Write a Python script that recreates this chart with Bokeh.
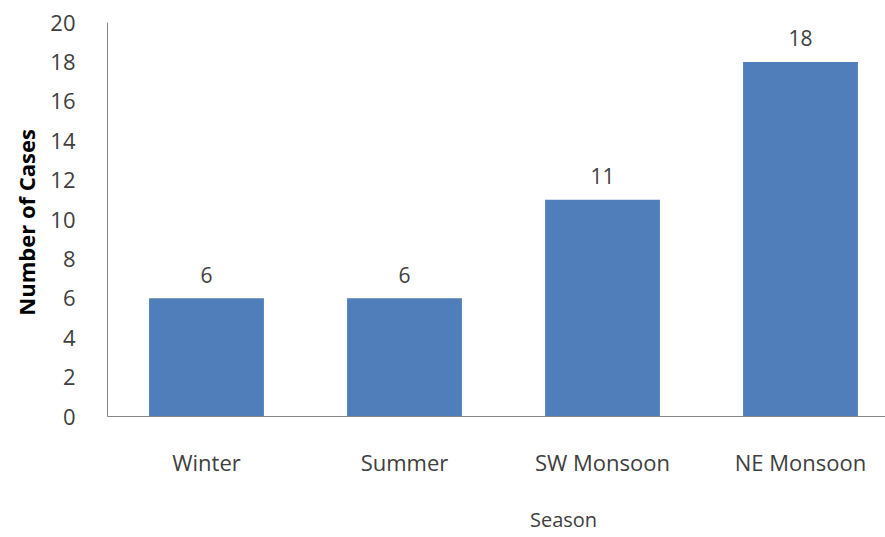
from bokeh.plotting import figure
from bokeh.layouts import column
from bokeh.models import ColumnDataSource, Range1d, FixedTicker, Legend, LegendItem, LabelSet
from bokeh.core.properties import value
from bokeh.embed import file_html
from bokeh.resources import INLINE

categories = ["Winter", "Summer", "SW Monsoon", "NE Monsoon"]
cases = [6, 6, 11, 18]
y_ticks = [0, 2, 4, 6, 8, 10, 12, 14, 16, 18, 20]
series_name = "Season"

FONT = "Open Sans"
TXT = "#404040"
BAR = "#4F7EBB"

xs = [i + 0.5 for i in range(len(categories))]
src = ColumnDataSource(dict(x=xs, top=cases, lbl=[str(v) for v in cases],
                            ly=[v + 0.8 for v in cases]))

p = figure(width=885, height=486, output_backend="svg", toolbar_location=None,
           frame_width=778, frame_height=394,
           min_border_left=107, min_border_right=0, min_border_top=22, min_border_bottom=70,
           x_range=Range1d(0, 778 / 198.0), y_range=Range1d(0, 20))
p.outline_line_color = None
p.xgrid.visible = False
p.ygrid.visible = False

p.vbar(x="x", top="top", width=0.58, source=src, fill_color=BAR, line_color=None)

labels = LabelSet(x="x", y="ly", text="lbl", source=src, text_align="center",
                  text_baseline="bottom", text_font=value(FONT), text_font_size="21px",
                  text_color=TXT)
p.add_layout(labels)

p.yaxis.ticker = FixedTicker(ticks=y_ticks)
p.xaxis.ticker = FixedTicker(ticks=xs)
p.xaxis.major_label_overrides = {x: c for x, c in zip(xs, categories)}
for ax in (p.xaxis, p.yaxis):
    ax.axis_line_color = "#868686"
    ax.major_tick_line_color = None
    ax.minor_tick_line_color = None
    ax.major_label_text_font = FONT
    ax.major_label_text_font_size = "22px"
    ax.major_label_text_color = TXT
p.yaxis.major_label_standoff = 26
p.xaxis.major_label_standoff = 24

p.yaxis.axis_label = "Number  of Cases"
p.yaxis.axis_label_text_font = FONT
p.yaxis.axis_label_text_font_size = "22px"
p.yaxis.axis_label_text_font_style = "bold"
p.yaxis.axis_label_text_color = "#000000"
p.yaxis.axis_label_standoff = 6

# legend strip below the chart
lg = figure(width=885, height=51, output_backend="svg", toolbar_location=None,
            x_axis_type=None, y_axis_type=None, min_border=0,
            x_range=Range1d(0, 1), y_range=Range1d(0, 1))
lg.outline_line_color = None
key = lg.vbar(x=[], top=[], width=0.1, fill_color=BAR, line_color=None)
legend = Legend(items=[LegendItem(label=series_name, renderers=[key])],
                location=(405, 4), orientation="horizontal",
                glyph_width=13, glyph_height=13, label_standoff=5,
                padding=0, margin=0, border_line_color=None, background_fill_alpha=0,
                label_text_font=FONT, label_text_font_size="20px", label_text_color=TXT)
lg.add_layout(legend)

layout = column(p, lg, spacing=0)
open("out.html", "w").write(file_html(layout, INLINE))
